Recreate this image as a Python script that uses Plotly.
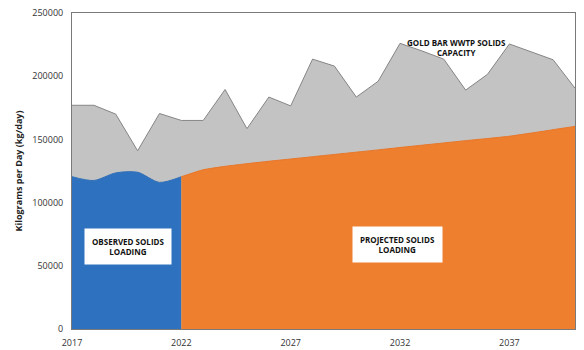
import plotly.graph_objects as go

# Annual solids loading and capacity, kg/day
capacity_years = list(range(2017, 2041))
capacity_kg = [
    177000, 177000, 170000, 141000, 170500, 165000, 165000, 189500,
    158500, 183500, 176500, 213500, 208000, 183500, 196000, 226000,
    220000, 213500, 189000, 201500, 225500, 219500, 213000, 190500,
]

observed_years = [2017, 2018, 2019, 2020, 2021, 2022]
observed_kg = [120500, 117500, 123500, 124000, 116000, 120500]

projected_years = list(range(2022, 2041))
projected_kg = [
    120500, 126000, 128700, 130800, 132700, 134500, 136300, 138100,
    139900, 141700, 143600, 145400, 147200, 149000, 150700, 152500,
    155000, 157700, 160300,
]

x_ticks = [2017, 2022, 2027, 2032, 2037]
y_ticks = [0, 50000, 100000, 150000, 200000, 250000]

fig = go.Figure()

fig.add_trace(go.Scatter(
    x=capacity_years, y=capacity_kg, mode="lines",
    line=dict(color="#858585", width=1),
    fill="tozeroy", fillcolor="#c3c3c3",
    name="Gold Bar WWTP Solids Capacity", showlegend=False,
))
fig.add_trace(go.Scatter(
    x=observed_years, y=observed_kg, mode="lines",
    line=dict(color="#2f6fb8", width=1, shape="spline", smoothing=0.8),
    fill="tozeroy", fillcolor="#2e72bf",
    name="Observed Solids Loading", showlegend=False,
))
fig.add_trace(go.Scatter(
    x=projected_years, y=projected_kg, mode="lines",
    line=dict(color="#e97526", width=1, shape="spline", smoothing=0.4),
    fill="tozeroy", fillcolor="#ee7f2e",
    name="Projected Solids Loading", showlegend=False,
))

label_font = dict(family="Open Sans, Liberation Sans, sans-serif", size=8, color="#111111")

fig.add_annotation(
    x=2034.6, y=222500, text="<b>GOLD BAR WWTP SOLIDS<br>CAPACITY</b>",
    showarrow=False, font=label_font, xanchor="center", yanchor="middle",
)
fig.add_annotation(
    x=2019.55, y=65500, text="<b>OBSERVED SOLIDS<br>LOADING</b>",
    showarrow=False, font=label_font, bgcolor="white", borderpad=7,
    xanchor="center", yanchor="middle",
)
fig.add_annotation(
    x=2031.9, y=67000, text="<b>PROJECTED SOLIDS<br>LOADING</b>",
    showarrow=False, font=label_font, bgcolor="white", borderpad=7,
    xanchor="center", yanchor="middle",
)

fig.update_layout(
    width=584, height=350,
    margin=dict(l=72, r=9, t=13, b=21),
    paper_bgcolor="white", plot_bgcolor="white",
    font=dict(family="Open Sans, Liberation Sans, sans-serif", size=9, color="#333333"),
)
fig.update_xaxes(
    range=[2017, 2040], tickvals=x_ticks, ticktext=[str(v) for v in x_ticks],
    showgrid=False, zeroline=False, showline=True, linecolor="#7a7a7a",
    linewidth=1, mirror=True, ticks="", ticklabelstandoff=5, automargin=False,
    tickfont=dict(size=9, color="#333333"),
)
fig.update_yaxes(
    range=[0, 250000], tickvals=y_ticks, ticktext=[str(v) for v in y_ticks],
    showgrid=False, zeroline=False, showline=True, linecolor="#7a7a7a",
    linewidth=1, mirror=True, ticks="", ticklabelstandoff=6, automargin=False,
    tickfont=dict(size=9, color="#333333"),
    title=dict(text="<b>Kilograms per Day (kg/day)</b>", font=dict(size=9, color="#222222"), standoff=8),
)

fig.write_html("out.html")
